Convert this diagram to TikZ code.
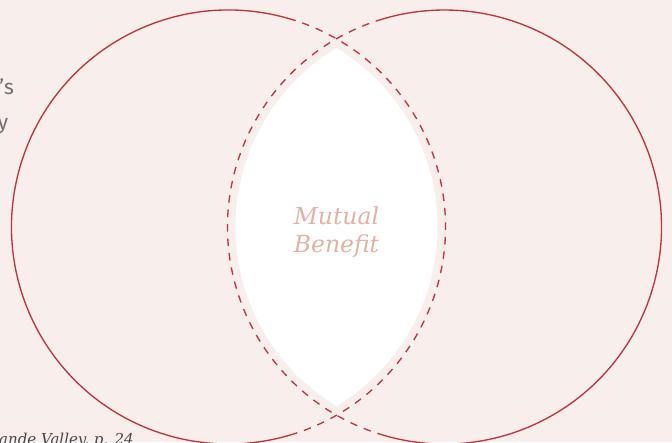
\documentclass[tikz,border=0pt]{standalone}
\usepackage{fontspec}
\newfontfamily\lensfont{DejaVu Serif}
\newfontfamily\sidefont{Fira Sans}
\definecolor{bg}{HTML}{F8EEEC}
\definecolor{ring}{HTML}{C0363F}
\definecolor{lenstext}{HTML}{E2B2A6}
\definecolor{greytext}{HTML}{737070}
\definecolor{citetext}{HTML}{4A4646}
\begin{document}
\begin{tikzpicture}[x=1pt,y=1pt,
  solidarc/.style={draw=ring,line width=1.35pt},
  dasharc/.style={draw=ring,line width=1.35pt,dash pattern=on 7.5pt off 7pt},
  lenslabel/.style={font=\lensfont\itshape\fontsize{23.5}{28}\selectfont,text=lenstext,align=center,inner sep=0pt},
  sidelabel/.style={font=\sidefont\fontsize{21}{24}\selectfont,text=greytext,inner sep=0pt},
  citelabel/.style={font=\lensfont\itshape\fontsize{15}{18}\selectfont,text=citetext,inner sep=0pt}]
\fill[bg] (0,0) rectangle (672,442);
\useasboundingbox (0,0) rectangle (672,442);
\coordinate (cL) at (228.5,215);
\coordinate (cR) at (444.5,215);
% white lens
\begin{scope}
  \clip (cL) circle (209);
  \fill[white] (cR) circle (209);
\end{scope}
% solid outer arcs
\draw[solidarc] (cL) ++(73.5:217) arc[start angle=73.5,end angle=286.5,radius=217];
\draw[solidarc] (cR) ++(-106.5:217) arc[start angle=-106.5,end angle=106.5,radius=217];
% dashed inner arcs
\draw[dasharc] (cL) ++(-73.5:217) arc[start angle=-73.5,end angle=73.5,radius=217];
\draw[dasharc] (cR) ++(106.5:217) arc[start angle=106.5,end angle=253.5,radius=217];
% labels
\node[lenslabel] (mb) at (336.5,210) {Mutual\\Benefit};
\node[sidelabel,anchor=base east] (s1) at (14,347) {’s};
\node[sidelabel,anchor=base east] (s2) at (8.5,312) {y};
\node[citelabel,anchor=base west] (cite) at (-1,-2) {ande Valley, p. 24};
\end{tikzpicture}
\end{document}
